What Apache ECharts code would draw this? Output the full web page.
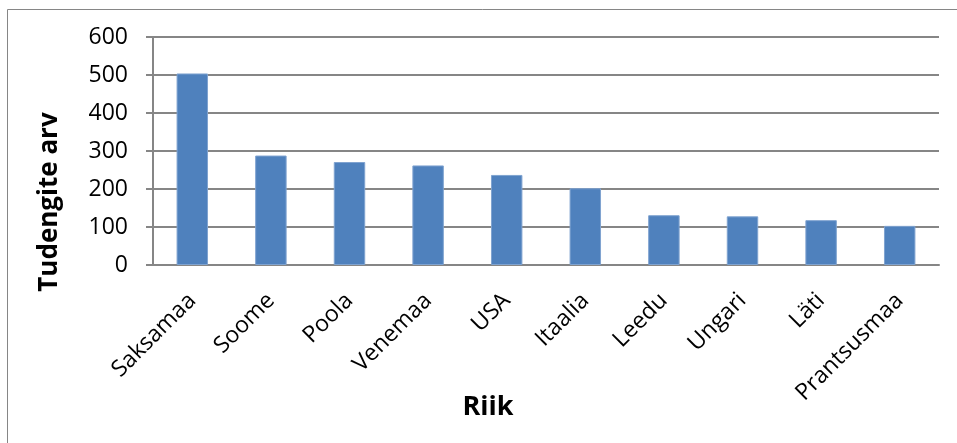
<!DOCTYPE html>
<html>
<head>
<meta charset="utf-8">
<script src="https://cdn.jsdelivr.net/npm/echarts@6/dist/echarts.min.js"></script>
<style>
  html, body { margin: 0; padding: 0; background: #fff; }
  #chart { width: 957px; height: 443px; }
</style>
</head>
<body>
<div id="chart"></div>
<script>
// Students by country of origin
const countries = ['Saksamaa', 'Soome', 'Poola', 'Venemaa', 'USA', 'Itaalia', 'Leedu', 'Ungari', 'Läti', 'Prantsusmaa'];
const students = [504, 288, 271, 262, 237, 202, 131, 128, 118, 103];
const yTicks = [0, 100, 200, 300, 400, 500, 600];
const xTitle = 'Riik';
const yTitle = 'Tudengite arv';

const font = '"Open Sans", "Liberation Sans", sans-serif';
const gridColor = '#868686';

const chart = echarts.init(document.getElementById('chart'), null, { renderer: 'canvas' });
chart.setOption({
  animation: false,
  backgroundColor: '#ffffff',
  graphic: [
    {
      // chart-area frame (runs off the right and bottom edges)
      type: 'rect',
      shape: { x: 7.5, y: 9.5, width: 1000, height: 500 },
      style: { fill: 'none', stroke: '#868686', lineWidth: 1 },
      silent: true
    },
    {
      type: 'text',
      x: 50, y: 202,
      rotation: Math.PI / 2,
      style: {
        text: yTitle, fontFamily: font, fontWeight: 'bold', fontSize: 26,
        fill: '#000', align: 'center', verticalAlign: 'middle'
      },
      silent: true
    },
    {
      type: 'text',
      x: 488, y: 407,
      style: {
        text: xTitle, fontFamily: font, fontWeight: 'bold', fontSize: 27,
        fill: '#000', align: 'center', verticalAlign: 'middle'
      },
      silent: true
    }
  ],
  grid: { left: 153, right: 18, top: 37, bottom: 178, containLabel: false },
  xAxis: {
    type: 'category',
    data: countries,
    axisLine: { show: true, lineStyle: { color: gridColor, width: 2 } },
    axisTick: { show: false },
    axisLabel: { interval: 0, rotate: 45, margin: 32, fontFamily: font, fontSize: 23, color: '#000' }
  },
  yAxis: {
    type: 'value',
    min: yTicks[0],
    max: yTicks[yTicks.length - 1],
    interval: 100,
    axisLine: { show: true, lineStyle: { color: gridColor, width: 2 } },
    axisTick: { show: true, length: 7, lineStyle: { color: gridColor, width: 2 } },
    axisLabel: { margin: 25, fontFamily: font, fontSize: 23, color: '#000' },
    splitLine: { show: true, lineStyle: { color: gridColor, width: 2 } }
  },
  series: [{
    type: 'bar',
    data: students,
    barWidth: '40%',
    itemStyle: { color: '#4F81BD', borderColor: '#7FA3D0', borderWidth: 1 }
  }]
});
</script>
</body>
</html>
